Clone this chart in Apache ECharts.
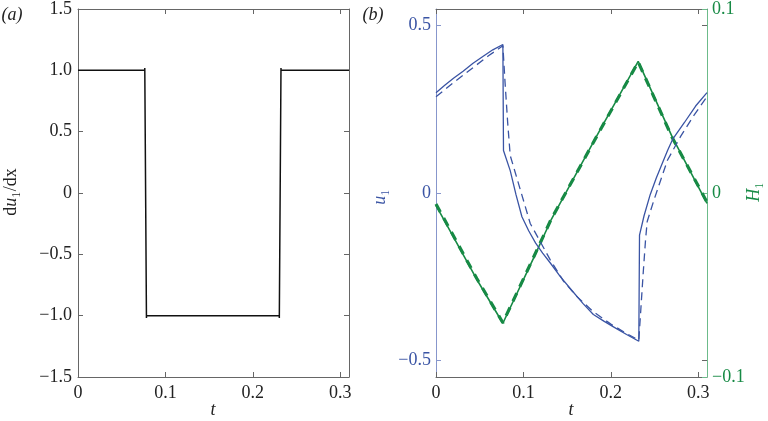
<!DOCTYPE html>
<html><head><meta charset="utf-8">
<script src="https://cdn.jsdelivr.net/npm/echarts@6/dist/echarts.min.js"></script>
<style>html,body{margin:0;padding:0;background:#fff}#c{width:768px;height:421px}</style>
</head><body><div id="c"></div><script>
// ---- data ----
const xTicks = [0, 0.1, 0.2, 0.3];
const yTicksA = [-1.5, -1, -0.5, 0, 0.5, 1, 1.5];
const uTicks = [-0.5, 0, 0.5];
const hTicks = [-0.1, 0, 0.1];

const du1dx = [[0,1],[0.0764,1],[0.0764,1.02],[0.0783,-1.02],[0.0783,-1],[0.2303,-1],[0.2303,-1.02],[0.2322,1.02],[0.2322,1],[0.31,1]];

const u1Solid = [[0,0.300],[0.010,0.322],[0.020,0.343],[0.031,0.364],[0.042,0.387],[0.054,0.409],[0.065,0.428],[0.0765,0.444],
 [0.0772,0.127],[0.0849,0.067],[0.0915,-0.005],[0.0983,-0.071],[0.106,-0.113],[0.114,-0.150],[0.122,-0.180],[0.131,-0.210],
 [0.142,-0.249],[0.155,-0.290],[0.168,-0.330],[0.180,-0.363],[0.192,-0.383],[0.203,-0.400],[0.218,-0.423],[0.232,-0.443],
 [0.2328,-0.126],[0.238,-0.068],[0.245,-0.005],[0.252,0.045],[0.259,0.090],[0.265,0.128],[0.271,0.162],[0.284,0.210],[0.297,0.260],[0.31,0.300]];

const u1Dashed = [[0,0.288],[0.020,0.330],[0.040,0.370],[0.060,0.410],[0.0765,0.440],[0.079,0.330],[0.082,0.210],[0.0849,0.112],
 [0.0944,0.028],[0.1078,-0.091],[0.1307,-0.200],[0.146,-0.264],[0.161,-0.309],[0.180,-0.355],[0.200,-0.392],[0.218,-0.420],[0.232,-0.440],
 [0.2345,-0.340],[0.237,-0.240],[0.2397,-0.140],[0.2416,-0.085],[0.2492,-0.022],[0.2646,0.097],[0.280,0.170],[0.295,0.232],[0.31,0.288]];

const h1Solid = [[0,-0.0067],[0.0467,-0.047],[0.0765,-0.0708],[0.112,-0.035],[0.1315,-0.0148],[0.185,0.032],[0.2313,0.0715],[0.2703,0.0304],[0.31,-0.0057]];
const h1Dashed = [[0,-0.0060],[0.0467,-0.0465],[0.0765,-0.0705],[0.112,-0.0345],[0.1315,-0.0145],[0.185,0.0318],[0.2313,0.0712],[0.2703,0.0300],[0.31,-0.0050]];

// ---- style ----
const FONT = "'Liberation Serif','DejaVu Serif',serif";
const GREY = '#666666';
const BLUE = '#3a54a4';
const BLUE_AX = '#8796cc';
const GREEN = '#178a45';
const GREEN_AX = '#6cbb8a';

function fmt(v){ if (Math.abs(v) < 1e-9) return '0'; return (v < 0 ? '\u2212' : '') + Math.abs(v).toFixed(1); }

function xAx(grid, pos, show){
  return { type:'value', gridIndex:grid, position:pos, min:0, max:0.31,
    axisLine:{show:true, onZero:false, lineStyle:{color:GREY, width:1}},
    axisTick:{show:true, inside:true, length:5, customValues:xTicks, lineStyle:{color:GREY}},
    axisLabel:{show:show, customValues:xTicks, formatter:fmt, margin:7, color:'#222', fontFamily:FONT, fontSize:18},
    splitLine:{show:false} };
}

const chart = echarts.init(document.getElementById('c'), null, {renderer:'canvas'});
chart.setOption({
  animation:false,
  backgroundColor:'#fff',
  grid:[
    {left:78, top:8, width:271, height:369},
    {left:436, top:8, width:271, height:369}
  ],
  xAxis:[ xAx(0,'bottom',true), xAx(0,'top',false), xAx(1,'bottom',true), xAx(1,'top',false) ],
  yAxis:[
    { type:'value', gridIndex:0, position:'left', min:-1.5, max:1.5, interval:0.5,
      axisLine:{show:true, onZero:false, lineStyle:{color:GREY}},
      axisTick:{show:true, inside:true, length:5, customValues:yTicksA, lineStyle:{color:GREY}},
      axisLabel:{customValues:yTicksA, formatter:fmt, margin:6, color:'#222', fontFamily:FONT, fontSize:18},
      splitLine:{show:false} },
    { type:'value', gridIndex:0, position:'right', min:-1.5, max:1.5, interval:0.5,
      axisLine:{show:true, onZero:false, lineStyle:{color:GREY}},
      axisTick:{show:true, inside:true, length:5, customValues:yTicksA, lineStyle:{color:GREY}},
      axisLabel:{show:false}, splitLine:{show:false} },
    { type:'value', gridIndex:1, position:'left', min:-0.55, max:0.55,
      axisLine:{show:true, onZero:false, lineStyle:{color:BLUE_AX}},
      axisTick:{show:true, inside:true, length:5, customValues:uTicks, lineStyle:{color:BLUE_AX}},
      axisLabel:{customValues:uTicks, formatter:fmt, margin:5, color:BLUE, fontFamily:FONT, fontSize:18},
      splitLine:{show:false} },
    { type:'value', gridIndex:1, position:'right', min:-0.1, max:0.1, interval:0.1, offset:0,
      axisLine:{show:true, onZero:false, lineStyle:{color:GREEN_AX}},
      axisTick:{show:true, inside:true, length:5, customValues:hTicks, lineStyle:{color:GREEN_AX}},
      axisLabel:{customValues:hTicks, formatter:fmt, margin:5, color:GREEN, fontFamily:FONT, fontSize:18},
      splitLine:{show:false} },
    { type:'value', gridIndex:1, position:'right', min:-0.55, max:0.55, offset:0,
      axisLine:{show:false, onZero:false},
      axisTick:{show:true, inside:true, length:5, customValues:[-0.5,0.5], lineStyle:{color:GREY}},
      axisLabel:{show:false}, splitLine:{show:false} }
  ],
  series:[
    { type:'line', xAxisIndex:0, yAxisIndex:0, data:du1dx, showSymbol:false, lineStyle:{color:'#111', width:1.5} },
    { type:'line', xAxisIndex:2, yAxisIndex:3, data:h1Dashed, showSymbol:false, lineStyle:{color:GREEN, width:3.2, type:[9,7]} },
    { type:'line', xAxisIndex:2, yAxisIndex:3, data:h1Solid, showSymbol:false, lineStyle:{color:GREEN, width:1.6} },
    { type:'line', xAxisIndex:2, yAxisIndex:2, data:u1Dashed, showSymbol:false, lineStyle:{color:BLUE, width:1.3, type:[8,5]} },
    { type:'line', xAxisIndex:2, yAxisIndex:2, data:u1Solid, showSymbol:false, lineStyle:{color:BLUE, width:1.3} }
  ],
  graphic:[
    { type:'text', x:12, y:15, style:{ text:'(a)', font:'italic 18px '+FONT, fill:'#222', textAlign:'center', textVerticalAlign:'middle' } },
    { type:'text', x:373, y:15, style:{ text:'(b)', font:'italic 18px '+FONT, fill:'#222', textAlign:'center', textVerticalAlign:'middle' } },
    { type:'text', x:213, y:410, style:{ text:'t', font:'italic 18px '+FONT, fill:'#222', textAlign:'center', textVerticalAlign:'middle' } },
    { type:'text', x:571, y:410, style:{ text:'t', font:'italic 18px '+FONT, fill:'#222', textAlign:'center', textVerticalAlign:'middle' } },
    { type:'text', x:11, y:192, rotation:Math.PI/2, style:{ text:'{r|d}{i|u}{r|\u2081/dx}', textAlign:'center', textVerticalAlign:'middle',
        rich:{ r:{font:'18px '+FONT, fill:'#222'}, i:{font:'italic 18px '+FONT, fill:'#222'} } } },
    { type:'text', x:380, y:197, rotation:Math.PI/2, style:{ text:'{i|u}{r|\u2081}', textAlign:'center', textVerticalAlign:'middle',
        rich:{ r:{font:'18px '+FONT, fill:BLUE}, i:{font:'italic 18px '+FONT, fill:BLUE} } } },
    { type:'text', x:754, y:192, rotation:Math.PI/2, style:{ text:'{i|H}{r|\u2081}', textAlign:'center', textVerticalAlign:'middle',
        rich:{ r:{font:'18px '+FONT, fill:GREEN}, i:{font:'italic 18px '+FONT, fill:GREEN} } } }
  ]
});
</script></body></html>
